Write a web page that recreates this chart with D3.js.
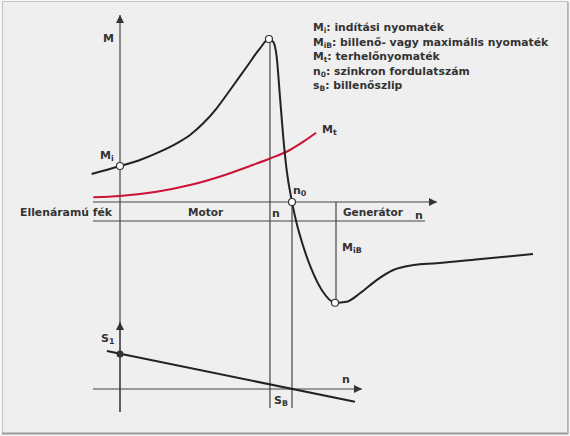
<!DOCTYPE html>
<html>
<head>
<meta charset="utf-8">
<script src="https://cdn.jsdelivr.net/npm/d3@7"></script>
<style>
  body { margin: 0; background: #fff; }
  svg { display: block; font-family: "DejaVu Sans", Verdana, sans-serif; font-weight: bold; }
</style>
</head>
<body>
<div id="chart"></div>
<script>
// torque curve M(n), n in units of synchronous speed n0, M in units of M_iB (peak)
const motorN = [-0.165, 0, 0.116, 0.233, 0.33, 0.407, 0.484, 0.562, 0.64, 0.737, 0.814, 0.866, 0.891, 0.911, 0.93, 0.949, 0.969, 1, 1.027, 1.066, 1.115, 1.173, 1.25, 1.318, 1.395, 1.492, 1.589, 1.705, 1.841, 2.1, 2.401];
const motorM = [0.172, 0.221, 0.258, 0.309, 0.36, 0.411, 0.483, 0.575, 0.687, 0.83, 0.943, 1.0, 0.983, 0.891, 0.646, 0.40, 0.196, 0, -0.131, -0.274, -0.417, -0.54, -0.618, -0.612, -0.56, -0.479, -0.417, -0.387, -0.376, -0.35, -0.319];

// load torque Mt(n)
const loadN = [-0.155, 0, 0.213, 0.407, 0.601, 0.756, 0.872, 0.988, 1.066, 1.14];
const loadM = [0.029, 0.037, 0.063, 0.104, 0.163, 0.221, 0.267, 0.319, 0.37, 0.425];

// slip line s(n)
const slipN = [-0.076, 1.366];
const slipS = [1.086, -0.366];

// marked points
const peakN = 0.866, minN = 1.25;

const legend = [
  ["M", "i", ": indítási nyomaték"],
  ["M", "iB", ": billenő- vagy maximális nyomaték"],
  ["M", "t", ": terhelőnyomaték"],
  ["n", "0", ": szinkron fordulatszám"],
  ["s", "B", ": billenőszlip"]
];

const width = 570, height = 436;
const ink = "#333", axisCol = "#444";

const x = d3.scaleLinear().domain([0, 1]).range([120, 292]);
const y = d3.scaleLinear().domain([0, 1]).range([202, 39]);
const ys = d3.scaleLinear().domain([0, 1]).range([389, 354]);

const svg = d3.create("svg")
  .attr("width", width)
  .attr("height", height);

const defs = svg.append("defs");
defs.append("marker")
  .attr("id", "arrow")
  .attr("viewBox", "0 0 10 10")
  .attr("refX", 10).attr("refY", 5)
  .attr("markerWidth", 10).attr("markerHeight", 8)
  .attr("markerUnits", "userSpaceOnUse")
  .attr("orient", "auto")
  .append("path").attr("d", "M0,0L10,5L0,10Z").attr("fill", "#333");

// frame
svg.append("rect").attr("x", 0).attr("y", 0).attr("width", width).attr("height", height).attr("fill", "#f6f6f6");
svg.append("rect").attr("x", 2.5).attr("y", 1.5).attr("width", 565).attr("height", 432)
  .attr("fill", "#efefef").attr("stroke", "#c4c4c4").attr("stroke-width", 1);
svg.append("line").attr("x1", 2).attr("x2", 568).attr("y1", 433.5).attr("y2", 433.5).attr("stroke", "#9a9a9a").attr("stroke-width", 2);
svg.append("line").attr("x1", 568).attr("x2", 568).attr("y1", 2).attr("y2", 434).attr("stroke", "#b0b0b0").attr("stroke-width", 1.5);

const g = svg.append("g").attr("stroke", axisCol).attr("stroke-width", 1.2).attr("fill", "none");

// vertical M axis (also carries s axis)
g.append("line").attr("x1", x(0)).attr("x2", x(0)).attr("y1", 412).attr("y2", 15).attr("marker-end", "url(#arrow)");
g.append("line").attr("x1", x(0)).attr("x2", x(0)).attr("y1", 412).attr("y2", 322).attr("marker-end", "url(#arrow)");
// n axis
g.append("line").attr("x1", 93).attr("x2", 437).attr("y1", y(0)).attr("y2", y(0)).attr("marker-end", "url(#arrow)");
// band line
g.append("line").attr("x1", 93).attr("x2", 425).attr("y1", 221).attr("y2", 221);
// slip n axis
g.append("line").attr("x1", 93).attr("x2", 362).attr("y1", ys(0)).attr("y2", ys(0)).attr("marker-end", "url(#arrow)");
// guides
g.append("line").attr("x1", x(peakN) + 1).attr("x2", x(peakN) + 1).attr("y1", y(1)).attr("y2", 408);
g.append("line").attr("x1", x(1)).attr("x2", x(1)).attr("y1", y(0)).attr("y2", 408);
const minM = motorM[motorN.indexOf(minN)];
g.append("line").attr("x1", x(minN) + 1).attr("x2", x(minN) + 1).attr("y1", y(0)).attr("y2", y(minM));

const line = d3.line().curve(d3.curveMonotoneX);

svg.append("path")
  .attr("d", line(loadN.map((n, i) => [x(n), y(loadM[i])])))
  .attr("fill", "none").attr("stroke", "#cc1236").attr("stroke-width", 2);

svg.append("path")
  .attr("d", line(motorN.map((n, i) => [x(n), y(motorM[i])])))
  .attr("fill", "none").attr("stroke", "#222").attr("stroke-width", 2);

svg.append("path")
  .attr("d", d3.line()(slipN.map((n, i) => [x(n), ys(slipS[i])])))
  .attr("fill", "none").attr("stroke", "#222").attr("stroke-width", 2);

// markers
const pts = [[0, motorM[1]], [peakN, 1], [1, 0], [minN, minM]];
svg.selectAll("circle.pt").data(pts).join("circle")
  .attr("class", "pt")
  .attr("cx", d => x(d[0])).attr("cy", d => y(d[1])).attr("r", 3.5)
  .attr("fill", "#fff").attr("stroke", "#333").attr("stroke-width", 1.2);
svg.append("circle").attr("cx", x(0)).attr("cy", ys(1)).attr("r", 3.5).attr("fill", "#333");

// labels
function label(px, py, main, sub, size) {
  const t = svg.append("text").attr("x", px).attr("y", py)
    .attr("fill", ink).attr("font-size", size || 11);
  t.append("tspan").text(main);
  if (sub) t.append("tspan").attr("font-size", (size || 11) * 0.72).attr("dy", 2).text(sub);
  return t;
}

label(103, 42, "M");
label(100, 159, "M", "i");
label(322, 133, "M", "t");
label(293, 194, "n", "0");
label(342, 251, "M", "iB");
label(101, 342, "S", "1");
label(274, 404, "S", "B");
label(342, 383, "n");
label(272, 217, "n");
label(415, 219, "n");
label(20, 216, "Ellenáramú fék", null, 10.5)
  .attr("textLength", 92).attr("lengthAdjust", "spacingAndGlyphs");
label(188, 216, "Motor", null, 10.5);
label(343, 216, "Generátor", null, 10.5);

const leg = svg.append("g").attr("fill", ink).attr("font-size", 10.8);
legend.forEach((d, i) => {
  const t = leg.append("text").attr("x", 313).attr("y", 31 + i * 14.5);
  t.append("tspan").text(d[0]);
  t.append("tspan").attr("font-size", 7.5).attr("dy", 2).text(d[1]);
  t.append("tspan").attr("dy", -2).text(d[2]);
});

document.getElementById("chart").appendChild(svg.node());
</script>
</body>
</html>
